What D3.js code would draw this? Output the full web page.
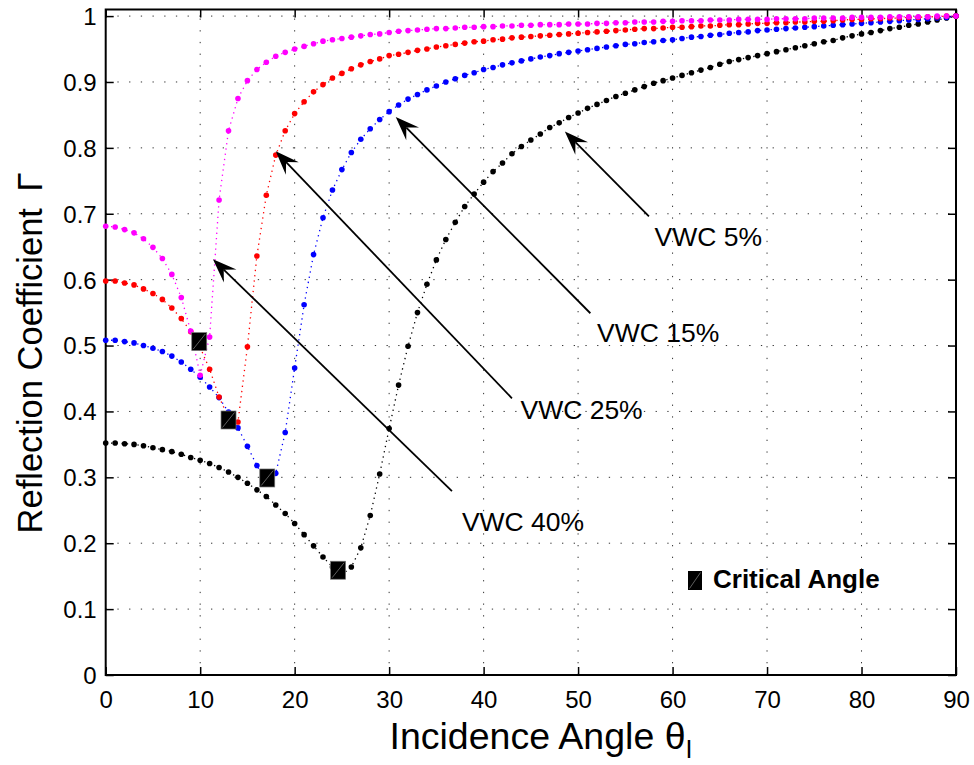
<!DOCTYPE html>
<html><head><meta charset="utf-8">
<script src="https://cdn.jsdelivr.net/npm/d3@7"></script>
<style>
body{margin:0;background:#fff;}
svg{display:block;font-family:"Liberation Sans",Arial,Helvetica,sans-serif;}
</style></head><body>
<svg id="chart" width="974" height="765"></svg>
<script>
// ---------------- DATA ----------------
const angles = [0,1,2,3,4,5,6,7,8,9,10,11,12,13,14,15,16,17,18,19,20,21,22,23,24,25,26,27,28,29,30,
31,32,33,34,35,36,37,38,39,40,41,42,43,44,45,46,47,48,49,50,51,52,53,54,55,56,57,58,59,60,
61,62,63,64,65,66,67,68,69,70,71,72,73,74,75,76,77,78,79,80,81,82,83,84,85,86,87,88,89,90];

const vwc5 = [0.352,0.352,0.351,0.350,0.348,0.345,0.342,0.339,0.335,0.330,0.326,0.321,0.315,0.308,0.300,
0.291,0.281,0.271,0.258,0.245,0.230,0.213,0.196,0.179,0.164,0.152,0.164,0.193,0.242,0.305,0.374,
0.440,0.499,0.550,0.593,0.630,0.661,0.687,0.711,0.730,0.748,0.764,0.777,0.791,0.802,0.812,0.821,
0.831,0.838,0.846,0.853,0.860,0.866,0.872,0.878,0.883,0.888,0.893,0.898,0.902,0.906,0.910,0.914,
0.918,0.922,0.927,0.931,0.934,0.937,0.940,0.943,0.946,0.949,0.952,0.955,0.958,0.961,0.963,0.967,
0.970,0.973,0.975,0.978,0.981,0.983,0.986,0.988,0.991,0.994,0.997,1.000];

const vwc15 = [0.508,0.508,0.506,0.504,0.500,0.496,0.491,0.484,0.475,0.464,0.452,0.437,0.421,0.399,0.375,
0.347,0.318,0.293,0.306,0.368,0.466,0.562,0.638,0.694,0.736,0.767,0.793,0.813,0.829,0.843,0.855,
0.865,0.874,0.881,0.888,0.894,0.900,0.905,0.910,0.914,0.919,0.922,0.926,0.929,0.932,0.935,0.938,
0.940,0.943,0.945,0.947,0.949,0.951,0.953,0.955,0.957,0.958,0.960,0.961,0.963,0.964,0.966,0.968,
0.969,0.971,0.972,0.974,0.975,0.976,0.978,0.979,0.980,0.981,0.982,0.983,0.984,0.985,0.986,0.987,
0.988,0.989,0.990,0.991,0.992,0.993,0.994,0.995,0.996,0.997,0.998,1.000];

const vwc25 = [0.598,0.598,0.595,0.592,0.586,0.579,0.570,0.557,0.541,0.521,0.497,0.464,0.422,0.390,0.384,
0.498,0.636,0.728,0.789,0.826,0.852,0.870,0.885,0.896,0.906,0.913,0.920,0.926,0.931,0.935,0.940,
0.942,0.945,0.948,0.950,0.953,0.955,0.957,0.959,0.961,0.962,0.964,0.965,0.967,0.968,0.969,0.970,
0.971,0.972,0.973,0.974,0.975,0.976,0.977,0.978,0.979,0.980,0.981,0.981,0.982,0.983,0.983,0.984,
0.985,0.985,0.986,0.987,0.987,0.988,0.989,0.989,0.990,0.990,0.991,0.991,0.992,0.992,0.993,0.994,
0.995,0.995,0.996,0.996,0.997,0.997,0.998,0.998,0.999,0.999,1.000,1.000];

const vwc40 = [0.681,0.680,0.676,0.671,0.662,0.649,0.632,0.608,0.573,0.522,0.455,0.513,0.721,0.826,0.875,
0.902,0.919,0.930,0.939,0.945,0.950,0.954,0.958,0.962,0.964,0.966,0.968,0.970,0.972,0.973,0.975,
0.977,0.978,0.979,0.980,0.981,0.981,0.982,0.983,0.983,0.984,0.984,0.985,0.985,0.986,0.986,0.987,
0.987,0.987,0.988,0.988,0.988,0.989,0.989,0.990,0.990,0.991,0.991,0.991,0.992,0.992,0.993,0.993,
0.993,0.994,0.994,0.994,0.995,0.995,0.995,0.995,0.996,0.996,0.996,0.996,0.997,0.997,0.997,0.997,
0.998,0.998,0.998,0.998,0.999,0.999,0.999,0.999,0.999,1.000,1.000,1.000];

// critical angle markers (one per series, same order)
const critAngle = [24.6, 17.1, 13.0, 9.9];
const critGamma = [0.159, 0.299, 0.387, 0.506];

const seriesNames = ["VWC 5%","VWC 15%","VWC 25%","VWC 40%"];
const seriesValues = [vwc5, vwc15, vwc25, vwc40];

const xTicks = [0,10,20,30,40,50,60,70,80,90];
const yTicks = [0,0.1,0.2,0.3,0.4,0.5,0.6,0.7,0.8,0.9,1];

// ---------------- STYLE / LAYOUT ----------------
const colors = ["#000000","#0000ff","#ff0000","#ff00ff"];
const plot = {left:105.7, right:956, top:9.5, bottom:675};
// annotation arrows in data units: [tipX, tipY, tailX, tailY, labelX, labelY]
const arrows = [
  [48.6,0.825, 57.5,0.696, 58.1,0.651],
  [30.7,0.847, 51.3,0.549, 52.0,0.505],
  [18.0,0.795, 43.0,0.420, 43.9,0.388],
  [11.35,0.631, 36.65,0.279, 37.7,0.219]
];

const x = d3.scaleLinear().domain([0,90]).range([plot.left, plot.right]);
const y = d3.scaleLinear().domain([0,1.01]).range([plot.bottom, plot.top]);
const svg = d3.select("#chart");
svg.append("rect").attr("width",974).attr("height",765).attr("fill","#fff");

// grid
const grid = svg.append("g");
grid.selectAll("line.v").data(xTicks.filter(d=>d>0 && d<90)).join("line")
  .attr("x1",d=>x(d)).attr("x2",d=>x(d)).attr("y1",plot.bottom).attr("y2",plot.top)
  .attr("stroke","#333").attr("stroke-width",1).attr("stroke-dasharray","1.3,10.4");
grid.selectAll("line.h").data(yTicks.filter(d=>d>0)).join("line")
  .attr("x1",plot.left).attr("x2",plot.right).attr("y1",d=>y(d)).attr("y2",d=>y(d))
  .attr("stroke","#333").attr("stroke-width",1).attr("stroke-dasharray","1.3,10.4");

// axes
function styleAxis(sel){
  sel.attr("font-family",null).attr("font-size",null);
  sel.select(".domain").remove();
  sel.selectAll(".tick line").attr("stroke","#000").attr("stroke-width",1.5);
  sel.selectAll(".tick text").attr("fill","#000").style("font-size","24px");
}
const fmt = d => (+d.toFixed(1)).toString();
const xb = svg.append("g").attr("transform",`translate(0,${plot.bottom})`)
  .call(d3.axisBottom(x).tickValues(xTicks).tickSize(-8).tickFormat(fmt));
styleAxis(xb);
xb.selectAll(".tick text").attr("y",33).attr("dy",null);

const yl = svg.append("g").attr("transform",`translate(${plot.left},0)`)
  .call(d3.axisLeft(y).tickValues(yTicks).tickSize(-8).tickFormat(fmt));
styleAxis(yl);
yl.selectAll(".tick text").attr("x",-9).attr("dy","0.35em");

const xt = svg.append("g").attr("transform",`translate(0,${plot.top})`)
  .call(d3.axisTop(x).tickValues(xTicks).tickSize(-8).tickFormat(""));
styleAxis(xt);
const yr = svg.append("g").attr("transform",`translate(${plot.right},0)`)
  .call(d3.axisRight(y).tickValues(yTicks).tickSize(-8).tickFormat(""));
styleAxis(yr);

svg.append("rect").attr("x",plot.left).attr("y",plot.top)
  .attr("width",plot.right-plot.left).attr("height",plot.bottom-plot.top)
  .attr("fill","none").attr("stroke","#000").attr("stroke-width",2);

// series
const line = d3.line().x(d=>x(d[0])).y(d=>y(d[1]));
seriesValues.forEach((vals,i)=>{
  const pts = angles.map((a,j)=>[a, vals[j]]);
  const gs = svg.append("g").attr("class","series").attr("data-name",seriesNames[i]);
  gs.append("path").datum(pts).attr("d",line).attr("fill","none")
    .attr("stroke",colors[i]).attr("stroke-width",1.3).attr("stroke-dasharray","1.3,4");
  gs.selectAll("circle").data(pts).join("circle")
    .attr("cx",d=>x(d[0])).attr("cy",d=>y(d[1])).attr("r",2.8).attr("fill",colors[i]);
});

// critical angle squares
const sqW = 15, sqH = 18;
const crit = critAngle.map((a,i)=>[a, critGamma[i]]);
const cg = svg.append("g");
cg.selectAll("rect").data(crit).join("rect")
  .attr("x",d=>x(d[0])-sqW/2).attr("y",d=>y(d[1])-sqH/2).attr("width",sqW).attr("height",sqH)
  .attr("fill","#000").attr("stroke","#777").attr("stroke-width",0.7);
cg.selectAll("line").data(crit).join("line")
  .attr("x1",d=>x(d[0])-sqW/2+1.5).attr("y1",d=>y(d[1])+sqH/2-1.5)
  .attr("x2",d=>x(d[0])+sqW/2-1.5).attr("y2",d=>y(d[1])-sqH/2+1.5)
  .attr("stroke","#888").attr("stroke-width",0.7);

// arrows + labels
const ag = svg.append("g");
arrows.forEach((a,i)=>{
  const tx=x(a[0]), ty=y(a[1]), sx=x(a[2]), sy=y(a[3]);
  const dx=sx-tx, dy=sy-ty, L=Math.hypot(dx,dy), ux=dx/L, uy=dy/L, px=-uy, py=ux;
  const hl=24, hw=9, nb=15;
  ag.append("line").attr("x1",sx).attr("y1",sy).attr("x2",tx+ux*nb).attr("y2",ty+uy*nb)
    .attr("stroke","#000").attr("stroke-width",1.8);
  const p=[[tx,ty],[tx+ux*hl+px*hw, ty+uy*hl+py*hw],[tx+ux*nb, ty+uy*nb],[tx+ux*hl-px*hw, ty+uy*hl-py*hw]];
  ag.append("path").attr("d","M"+p.map(q=>q.join(",")).join("L")+"Z").attr("fill","#000");
  ag.append("text").attr("x",x(a[4])).attr("y",y(a[5])).text(seriesNames[i])
    .style("font-size","26.5px").attr("fill","#000");
});

// legend
const lg = svg.append("g");
lg.append("rect").attr("x",688).attr("y",571).attr("width",14).attr("height",19).attr("fill","#000");
lg.append("line").attr("x1",689.5).attr("y1",588.5).attr("x2",700.5).attr("y2",572.5).attr("stroke","#888").attr("stroke-width",0.7);
lg.append("text").attr("x",713).attr("y",588).text("Critical Angle")
  .style("font-size","26px").style("font-weight","bold").attr("fill","#000");

// axis titles
svg.append("text").attr("transform","translate(42,353) rotate(-90)").attr("text-anchor","middle")
  .style("font-size","34.5px").attr("fill","#000").text("Reflection Coefficient \u2009Γ");
const xtitle = svg.append("text").attr("x",541).attr("y",749).attr("text-anchor","middle")
  .style("font-size","37.5px").attr("fill","#000");
xtitle.append("tspan").text("Incidence Angle θ");
xtitle.append("tspan").attr("dy",9).style("font-size","25px").text("I");
</script>
</body></html>
